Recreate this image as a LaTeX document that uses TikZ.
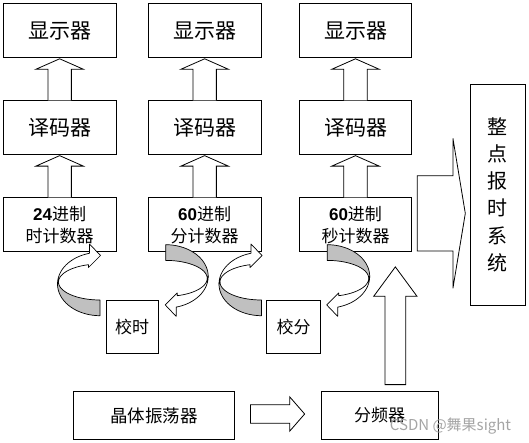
\documentclass[tikz,border=0pt]{standalone}
\usepackage{fontspec}
\setmainfont{Noto Sans CJK SC}
\newfontfamily\digitfont{Liberation Sans}
\usetikzlibrary{calc}
\definecolor{ribbongray}{RGB}{192,192,192}
\definecolor{wmgray}{RGB}{165,165,165}
\tikzset{
  box/.style={draw=black, line width=0.8pt, inner sep=0pt, minimum width=112.5pt, minimum height=53.5pt, font=\fontsize{21}{25}\selectfont},
  cntbox/.style={box, font=\fontsize{17}{22}\selectfont, align=center},
  smallbox/.style={draw=black, line width=0.8pt, inner sep=0pt, font=\fontsize{17}{20}\selectfont},
  blockarrow/.style={draw=black, line width=0.8pt, fill=white, line join=miter},
  ribbonback/.style={draw=black, line width=0.7pt, fill=ribbongray, line join=round},
  ribbonfront/.style={draw=black, line width=0.7pt, fill=white, line join=round},
}
\newcommand{\upblock}[2]{%
  \draw[blockarrow] ($(#1.north)+(-11.7,0)$) -- ($(#2.south)+(-11.7,11.5)$) -- ($(#2.south)+(-23.8,11.5)$) -- ($(#2.south)+(0,1)$) -- ($(#2.south)+(23.8,11.5)$) -- ($(#2.south)+(11.7,11.5)$) -- ($(#1.north)+(11.7,0)$);}
\newcommand{\ribbonarrow}{%
  \draw[ribbonback] plot[domain=270:180,samples=30] ({100+42.5*cos(\x)},{284-31.7*sin(\x)}) -- plot[domain=180:270,samples=30] ({100+41.5*cos(\x)},{282-18*sin(\x)}) -- cycle;
  \draw[ribbonfront] plot[domain=180:104.3,samples=30] ({100+42.5*cos(\x)},{284-31.7*sin(\x)}) -- (89.5,244) -- (100.5,255.5) -- (88.5,267.5) -- plot[domain=106.1:180,samples=30] ({100+41.5*cos(\x)},{282-18*sin(\x)}) -- cycle;}

\begin{document}
\begin{tikzpicture}[x=1pt,y=-1pt]
\useasboundingbox (0,0) rectangle (529,443);
\fill[white] (0,0) rectangle (529,443);

% display row
\node[box] (disp1) at (59.65,30.65) {显示器};
\node[box] (disp2) at (204.65,30.65) {显示器};
\node[box] (disp3) at (355.5,30.65) {显示器};
% decoder row
\node[box] (dec1) at (59.65,127.5) {译码器};
\node[box] (dec2) at (204.65,127.5) {译码器};
\node[box] (dec3) at (355.5,127.5) {译码器};
% counter row
\node[cntbox] (cnt1) at (59.65,224.6) {{\digitfont\bfseries 24}进制\\时计数器};
\node[cntbox] (cnt2) at (204.65,224.6) {{\digitfont\bfseries 60}进制\\分计数器};
\node[cntbox] (cnt3) at (355.5,224.6) {{\digitfont\bfseries 60}进制\\秒计数器};

% correction boxes
\node[smallbox, minimum width=52.3pt, minimum height=53.3pt] (jiaoshi) at (132.2,326.7) {校时};
\node[smallbox, minimum width=54pt, minimum height=53.3pt] (jiaofen) at (293.7,326.7) {校分};

% bottom row
\node[smallbox, minimum width=161pt, minimum height=47.6pt, font=\fontsize{17.5}{20}\selectfont] (osc) at (153.8,415.5) {晶体振荡器};
\node[smallbox, minimum width=117.3pt, minimum height=48pt] (div) at (379.7,415) {分频器};

% hourly chime system
\node[draw=black, line width=0.8pt, minimum width=55pt, minimum height=220.7pt, inner sep=0pt, align=center, font=\fontsize{20}{27.3}\selectfont] (sys) at (497.5,194.7) {整\\点\\报\\时\\系\\统};

% vertical block arrows between rows
\upblock{dec1}{disp1}
\upblock{dec2}{disp2}
\upblock{dec3}{disp3}
\upblock{cnt1}{dec1}
\upblock{cnt2}{dec2}
\upblock{cnt3}{dec3}

% block arrow to the hourly chime system
\coordinate (rs) at ($(cnt3.east)+(5,-11.2)$);
\coordinate (rt) at ($(rs -| sys.west)+(-4.3,0)$);
\draw[blockarrow] ($(rs)+(0,-37.7)$) -- ($(rt)+(-12.4,-37.7)$) -- ($(rt)+(-12.4,-75.1)$) -- (rt) -- ($(rt)+(-12.4,75)$) -- ($(rt)+(-12.4,37.6)$) -- ($(rs)+(0,37.6)$) -- cycle;

% block arrow oscillator -> divider
\coordinate (hs) at ($(osc.east)+(15.7,-1.5)$);
\coordinate (ht) at ($(hs -| div.west)+(-16,0)$);
\draw[blockarrow] ($(hs)+(0,-9.2)$) -- ($(ht)+(-15,-9.2)$) -- ($(ht)+(-15,-17.2)$) -- (ht) -- ($(ht)+(-15,17.2)$) -- ($(ht)+(-15,9.2)$) -- ($(hs)+(0,9.2)$) -- cycle;

% block arrow up from the divider
\coordinate (us) at ($(div.north)+(15.65,-6)$);
\coordinate (ut) at ($(us)+(0,-117.7)$);
\draw[blockarrow] ($(us)+(-10.35,0)$) -- ($(ut)+(-10.35,29.4)$) -- ($(ut)+(-21.65,29.4)$) -- (ut) -- ($(ut)+(21.65,29.4)$) -- ($(ut)+(10.35,29.4)$) -- ($(us)+(10.35,0)$) -- cycle;

% curved ribbon arrows
\begin{scope}\ribbonarrow\end{scope}
\begin{scope}[shift={(161.5,0)}]\ribbonarrow\end{scope}
\begin{scope}[rotate around={180:(132.85,280.2)}]\ribbonarrow\end{scope}
\begin{scope}[shift={(161.5,0)}, rotate around={180:(132.85,280.2)}]\ribbonarrow\end{scope}

% watermark
\node[text=wmgray, font=\fontsize{15}{18}\selectfont, inner sep=0pt] (wm) at (450.5,426) {CSDN @舞果sight};
\end{tikzpicture}
\end{document}
